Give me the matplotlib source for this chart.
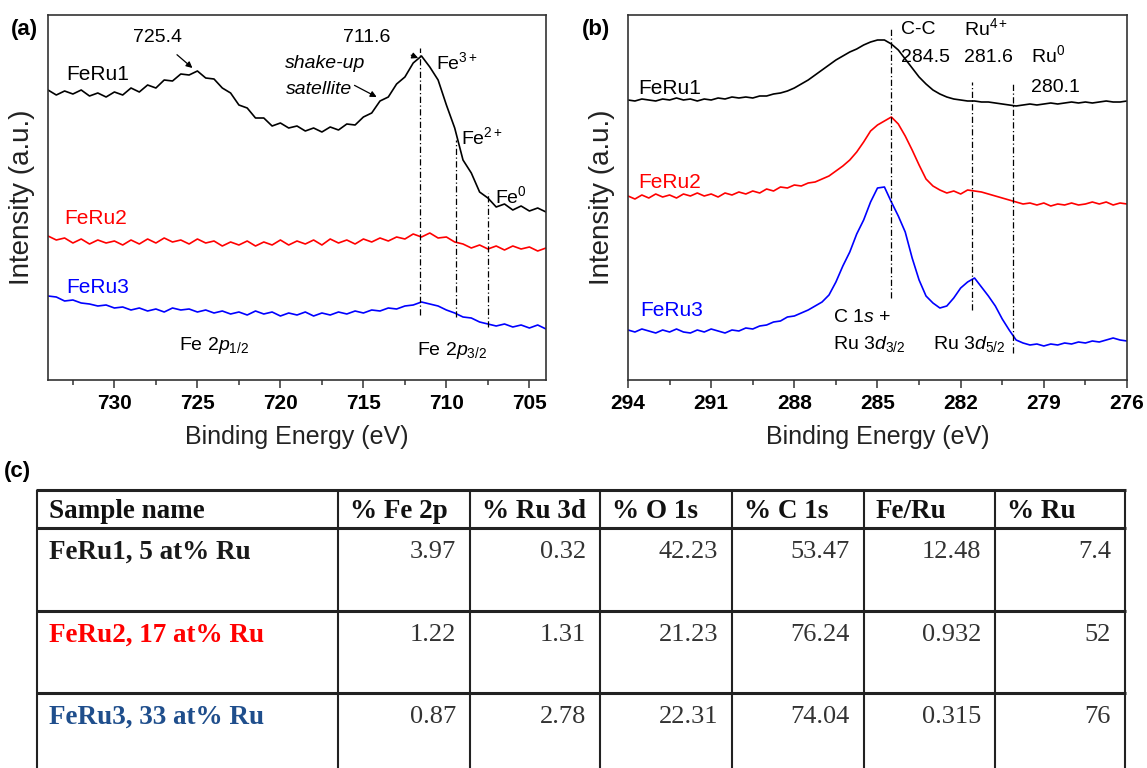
import numpy as np
import matplotlib
matplotlib.use("Agg")
import matplotlib.pyplot as plt

plt.rcParams['font.family'] = ['Liberation Sans', 'DejaVu Sans']
plt.rcParams['mathtext.fontset'] = 'custom'
plt.rcParams['mathtext.rm'] = 'Liberation Sans'
plt.rcParams['mathtext.it'] = 'Liberation Sans:italic'
plt.rcParams['mathtext.bf'] = 'Liberation Sans:bold'

# ---------------- data: panel (a) Fe 2p ----------------
energy_a = np.arange(734.0, 703.9, -0.5)
feru1_a = [290, 285, 289, 286, 290, 284, 287, 283, 288, 285, 292, 288, 295, 292, 300, 299,
           306, 305, 309, 302, 301, 292, 287, 275, 272, 262, 262, 254, 257, 252, 254, 249,
           252, 248, 253, 250, 256, 255, 263, 267, 279, 283, 296, 303, 317, 324, 313, 300,
           275, 252, 220, 207, 188, 182, 173, 176, 170, 174, 169, 172, 168]
feru2_a = [144, 140, 142, 137, 141, 136, 140, 137, 139, 135, 140, 136, 141, 137, 142, 138,
           140, 136, 141, 137, 139, 134, 138, 135, 139, 134, 138, 135, 140, 135, 139, 136,
           140, 135, 141, 137, 140, 136, 141, 138, 142, 139, 143, 141, 146, 143, 147, 142,
           143, 138, 136, 132, 135, 131, 134, 130, 134, 131, 133, 129, 132]
feru3_a = [84, 83, 79, 80, 77, 76, 74, 75, 72, 73, 70, 72, 69, 71, 68, 72,
           70, 71, 68, 70, 67, 69, 66, 68, 65, 69, 66, 68, 64, 67, 65, 68,
           64, 67, 65, 68, 66, 69, 67, 70, 69, 72, 71, 74, 75, 78, 76, 74,
           70, 67, 63, 62, 58, 56, 54, 56, 53, 55, 52, 55, 51]
# reference lines (a): energy, top, bottom
ref_a_energy = [711.6, 709.4, 707.5]
ref_a_top = [332, 240, 187]
ref_a_bottom = [65, 63, 53]

# ---------------- data: panel (b) C 1s / Ru 3d ----------------
energy_b = np.arange(294.0, 275.9, -0.25)
feru1_b = [280, 279, 281, 280, 279, 281, 280, 282, 280, 281, 279, 281, 280, 282, 281, 283,
           282, 283, 282, 284, 284, 286, 287, 289, 292, 296, 300, 305, 310, 315, 320, 324,
           328, 331, 335, 338, 340, 340, 336, 330, 321, 312, 303, 296, 290, 286, 283, 281,
           280, 279, 279, 278, 278, 277, 276, 275, 274, 275, 276, 275, 276, 277, 276, 277,
           278, 277, 278, 277, 278, 279, 278, 278, 279]
feru2_b = [184, 181, 185, 182, 186, 183, 185, 182, 186, 184, 187, 184, 186, 183, 187, 185,
           188, 186, 189, 187, 191, 189, 193, 192, 195, 194, 197, 198, 201, 204, 209, 214,
           220, 228, 238, 249, 255, 259, 263, 256, 244, 230, 215, 201, 194, 190, 187, 189,
           186, 190, 189, 188, 186, 184, 182, 180, 178, 176, 177, 175, 177, 174, 176, 175,
           177, 175, 176, 178, 176, 178, 175, 177, 176]
feru3_b = [50, 48, 51, 49, 47, 50, 48, 51, 48, 47, 50, 48, 51, 49, 47, 50,
           49, 52, 51, 54, 55, 58, 59, 63, 64, 67, 70, 74, 78, 85, 98, 114,
           128, 146, 160, 178, 192, 193, 178, 164, 148, 122, 100, 84, 77, 72, 74, 82,
           92, 98, 102, 93, 84, 74, 61, 50, 40, 37, 35, 36, 34, 36, 35, 37,
           36, 38, 37, 39, 38, 40, 42, 40, 39]
ref_b_energy = [284.5, 281.6, 280.1]
ref_b_top = [353, 298, 298]
ref_b_bottom = [82, 70, 27]

# ---------------- data: table (c) ----------------
table_header = ["Sample name", "% Fe 2p", "% Ru 3d", "% O 1s", "% C 1s", "Fe/Ru", "% Ru"]
sample_names = ["FeRu1, 5 at% Ru", "FeRu2, 17 at% Ru", "FeRu3, 33 at% Ru"]
fe2p = ["3.97", "1.22", "0.87"]
ru3d = ["0.32", "1.31", "2.78"]
o1s = ["42.23", "21.23", "22.31"]
c1s = ["53.47", "76.24", "74.04"]
fe_ru = ["12.48", "0.932", "0.315"]
ru_pct = ["7.4", "52", "76"]

series_colors = ["black", "#ff0000", "#0000ff"]
table_name_colors = ["#1a1a1a", "#ff0000", "#1f4e8c"]

W, H = 1147, 768
fig = plt.figure(figsize=(W / 100, H / 100), dpi=100)

def px_axes(x0, y0, x1, y1):
    return fig.add_axes([x0 / W, 1 - y1 / H, (x1 - x0) / W, (y1 - y0) / H])

axA = px_axes(48, 15, 546, 380)
axB = px_axes(628, 15, 1127, 380)

dash_dot = (0, (5, 2, 1, 2))
for ax in (axA, axB):
    ax.set_ylim(0, 365)
    ax.set_yticks([])
    for sp in ax.spines.values():
        sp.set_linewidth(1.2)
        sp.set_color("#333333")
    ax.tick_params(axis='x', which='both', direction='out', color='#333333', width=1.1)
    ax.tick_params(axis='x', which='major', length=6, labelsize=15, pad=4)
    ax.tick_params(axis='x', which='minor', length=3.5)
    ax.set_xlabel("Binding Energy (eV)", fontsize=18, labelpad=9, color="#222222")
    ax.set_ylabel("Intensity (a.u.)", fontsize=20, color="#222222")

# panel (a)
axA.set_xlim(734, 704)
axA.set_xticks([730, 725, 720, 715, 710, 705])
axA.set_xticks(np.arange(732.5, 704, -5), minor=True)
for ys, c in zip([feru1_a, feru2_a, feru3_a], series_colors):
    axA.plot(energy_a, ys, color=c, lw=1.2)
for e, t, b in zip(ref_a_energy, ref_a_top, ref_a_bottom):
    axA.plot([e, e], [b, t], color='black', lw=0.9, ls=dash_dot)
axA.yaxis.set_label_coords(-0.026, 0.5)

fs = 14
axA.text(732.9, 305, "FeRu1", fontsize=15, va='center', ha='left')
axA.text(733.0, 162, "FeRu2", fontsize=15, va='center', ha='left', color=series_colors[1])
axA.text(732.9, 93, "FeRu3", fontsize=15, va='center', ha='left', color=series_colors[2])
axA.annotate("725.4", xy=(725.3, 312), xytext=(727.4, 342), fontsize=fs, ha='center', va='center',
             arrowprops=dict(arrowstyle='-|>', color='black', lw=0.9, mutation_scale=9, shrinkA=6, shrinkB=0))
axA.annotate("711.6", xy=(711.7, 322), xytext=(714.8, 343), fontsize=fs, ha='center', va='center',
             arrowprops=dict(arrowstyle='-|>', color='black', lw=0.9, mutation_scale=9, shrinkA=14, shrinkB=0))
axA.text(717.3, 316, "shake-up", fontsize=fs, style='italic', ha='center', va='center')
axA.annotate("satellite", xy=(714.2, 283), xytext=(717.7, 291), fontsize=fs, style='italic',
             ha='center', va='center',
             arrowprops=dict(arrowstyle='-|>', color='black', lw=0.9, mutation_scale=9, shrinkA=30, shrinkB=0,
                             connectionstyle='arc3,rad=0', relpos=(1.0, 0.8)))
axA.text(710.6, 318, r"Fe$^{3+}$", fontsize=fs, ha='left', va='center')
axA.text(709.1, 243, r"Fe$^{2+}$", fontsize=fs, ha='left', va='center')
axA.text(707.1, 184, r"Fe$^{0}$", fontsize=fs, ha='left', va='center')
axA.text(726.1, 35, r"Fe 2$p_{1/2}$", fontsize=fs, ha='left', va='center')
axA.text(711.8, 30, r"Fe 2$p_{3/2}$", fontsize=fs, ha='left', va='center')

# panel (b)
axB.set_xlim(294, 276)
axB.set_xticks([294, 291, 288, 285, 282, 279, 276])
axB.set_xticks(np.arange(292.5, 276, -3), minor=True)
for ys, c in zip([feru1_b, feru2_b, feru3_b], series_colors):
    axB.plot(energy_b, ys, color=c, lw=1.2)
for e, t, b in zip(ref_b_energy, ref_b_top, ref_b_bottom):
    axB.plot([e, e], [b, t], color='black', lw=0.9, ls=dash_dot)
axB.yaxis.set_label_coords(-0.026, 0.5)

for ax in (axA, axB):
    for lab in ax.get_xticklabels():
        lab.set_fontweight('bold')

axB.text(293.64, 292, "FeRu1", fontsize=15, va='center', ha='left')
axB.text(293.64, 197, "FeRu2", fontsize=15, va='center', ha='left', color=series_colors[1])
axB.text(293.57, 70, "FeRu3", fontsize=15, va='center', ha='left', color=series_colors[2])
axB.text(284.15, 350, "C-C", fontsize=fs, ha='left', va='center')
axB.text(284.15, 323, "284.5", fontsize=fs, ha='left', va='center')
axB.text(281.88, 352, r"Ru$^{4+}$", fontsize=fs, ha='left', va='center')
axB.text(281.88, 323, "281.6", fontsize=fs, ha='left', va='center')
axB.text(279.46, 325, r"Ru$^{0}$", fontsize=fs, ha='left', va='center')
axB.text(279.46, 292, "280.1", fontsize=fs, ha='left', va='center')
axB.text(286.6, 63, r"C 1$s$ +", fontsize=fs, ha='left', va='center')
axB.text(286.6, 36, r"Ru 3$d_{3/2}$", fontsize=fs, ha='left', va='center')
axB.text(283.0, 36, r"Ru 3$d_{5/2}$", fontsize=fs, ha='left', va='center')

# panel labels
fig.text(24 / W, 1 - 29 / H, "(a)", fontsize=16, fontweight='bold', ha='center', va='center')
fig.text(596 / W, 1 - 29 / H, "(b)", fontsize=16, fontweight='bold', ha='center', va='center')
fig.text(17 / W, 1 - 472 / H, "(c)", fontsize=16, fontweight='bold', ha='center', va='center')

# ---------------- table (c) ----------------
axT = px_axes(37, 490, 1125, 776)
axT.set_xlim(0, 1088)
axT.set_ylim(286, 0)
axT.axis('off')
col_edges = [0, 301, 433, 563, 695, 827, 958, 1088]
row_edges = [0, 38, 121, 203, 286]
line_col = "#222222"
for x in col_edges:
    axT.plot([x, x], [0, 286], color=line_col, lw=1.5, solid_capstyle='butt', clip_on=False)
for y in row_edges:
    axT.plot([-1, 1089], [y, y], color=line_col, lw=2.2, solid_capstyle='butt', clip_on=False)

serif = ['Liberation Serif', 'DejaVu Serif']
for j, h in enumerate(table_header):
    axT.text(col_edges[j] + 12, 21, h, family=serif, fontsize=19.5,
             fontweight='bold', ha='left', va='center', color="#111111")
columns = [fe2p, ru3d, o1s, c1s, fe_ru, ru_pct]
for i, name in enumerate(sample_names):
    yc = row_edges[i + 1] + 24
    axT.text(12, yc, name, family=serif, fontsize=19.5, fontweight='bold', ha='left', va='center',
             color=table_name_colors[i])
    for j, col in enumerate(columns):
        axT.text(col_edges[j + 2] - 14, yc, col[i], family=serif, fontsize=19, ha='right',
                 va='center', color="#333333")

fig.savefig("out.png", dpi=100)
